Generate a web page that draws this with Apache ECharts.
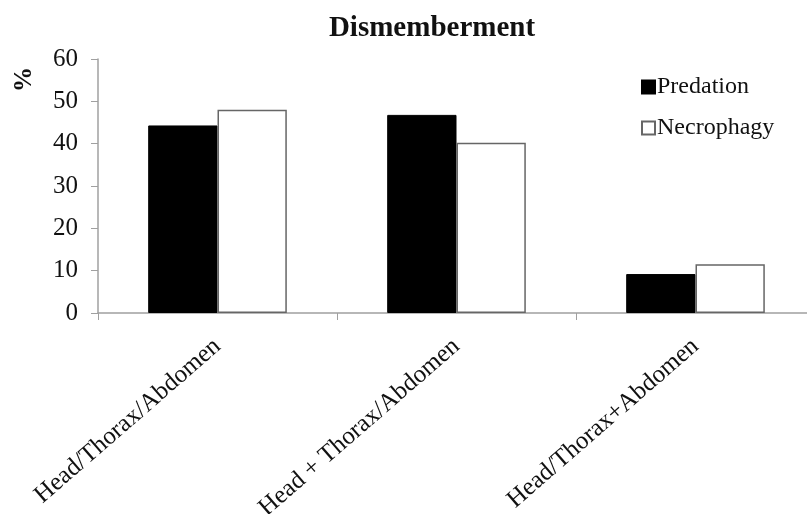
<!DOCTYPE html>
<html>
<head>
<meta charset="utf-8">
<script src="https://cdn.jsdelivr.net/npm/echarts@6/dist/echarts.min.js"></script>
<style>
  html, body { margin: 0; padding: 0; background: #fff; }
  #chart { width: 807px; height: 514px; }
</style>
</head>
<body>
<div id="chart"></div>
<script>
// Dismemberment pattern shares (%) by feeding mode
const categories = ['Head/Thorax/Abdomen', 'Head + Thorax/Abdomen', 'Head/Thorax+Abdomen'];
const predation = [44.3, 46.8, 9.2];
const necrophagy = [48.0, 40.2, 11.5];
const yTicks = { min: 0, max: 60, interval: 10 };

const serif = '"Liberation Serif", "DejaVu Serif", serif';
const chart = echarts.init(document.getElementById('chart'));

chart.setOption({
  animation: false,
  backgroundColor: '#ffffff',
  title: {
    text: 'Dismemberment',
    left: 427,
    textAlign: 'center',
    top: 9,
    textStyle: { fontFamily: serif, fontSize: 29, fontWeight: 'bold', color: '#111' }
  },
  legend: {
    orient: 'vertical',
    left: 636,
    top: 70,
    icon: 'rect',
    itemWidth: 13,
    itemHeight: 13,
    itemGap: 17,
    textStyle: { fontFamily: serif, fontSize: 24, color: '#111', padding: [0, 0, 0, -3] },
    data: ['Predation', 'Necrophagy']
  },
  // plot spans three equal category bands; the last band runs past the right edge
  grid: { left: 98, top: 59, width: 717, height: 254, containLabel: false, outerBoundsMode: 'none' },
  xAxis: {
    type: 'category',
    data: categories,
    axisLine: { lineStyle: { color: '#a0a0a0', width: 1.5 } },
    axisTick: { show: true, length: 7, lineStyle: { color: '#a0a0a0' } },
    axisLabel: {
      rotate: 41,
      margin: 30,
      fontFamily: serif,
      fontSize: 25,
      color: '#111',
      interval: 0
    }
  },
  yAxis: {
    type: 'value',
    min: yTicks.min,
    max: yTicks.max,
    interval: yTicks.interval,
    splitLine: { show: false },
    axisLine: { show: true, lineStyle: { color: '#a0a0a0', width: 1.5 } },
    axisTick: { show: true, length: 7, lineStyle: { color: '#a0a0a0' } },
    axisLabel: { margin: 20, fontFamily: serif, fontSize: 25, color: '#111' }
  },
  graphic: [{
    type: 'text',
    x: 12,
    y: 92,
    rotation: Math.PI / 2,
    style: { text: '%', font: 'bold 25px ' + serif, fill: '#111' }
  }],
  series: [
    {
      name: 'Predation',
      type: 'bar',
      data: predation,
      barGap: '0%',
      barCategoryGap: '42%',
      itemStyle: { color: '#000000', borderColor: '#000000', borderWidth: 1 }
    },
    {
      name: 'Necrophagy',
      type: 'bar',
      data: necrophagy,
      itemStyle: { color: '#ffffff', borderColor: '#666666', borderWidth: 1.5 }
    }
  ]
});
</script>
</body>
</html>
